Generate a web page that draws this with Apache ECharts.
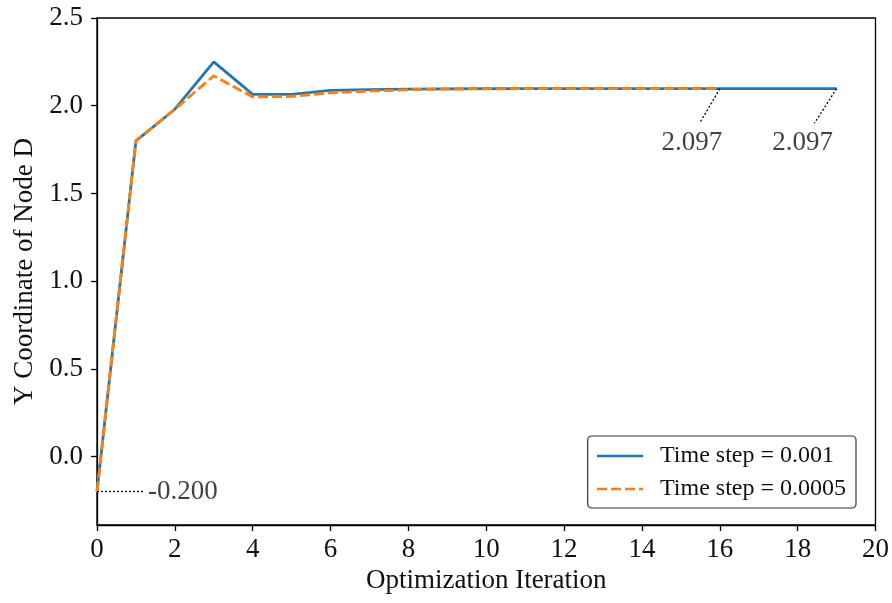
<!DOCTYPE html>
<html>
<head>
<meta charset="utf-8">
<script src="https://cdn.jsdelivr.net/npm/echarts@6/dist/echarts.min.js"></script>
<style>
html, body { margin: 0; padding: 0; background: #fff; }
#chart { width: 892px; height: 603px; }
</style>
</head>
<body>
<div id="chart"></div>
<script>
// iterations and node D y coordinate for both time steps
var itersA = [0, 1, 2, 3, 4, 5, 6, 7, 8, 9, 10, 11, 12, 13, 14, 15, 16, 17, 18, 19];
var valuesA = [-0.2, 1.80, 1.98, 2.25, 2.065, 2.065, 2.088, 2.092, 2.095, 2.096, 2.097, 2.097, 2.097, 2.097, 2.097, 2.097, 2.097, 2.097, 2.097, 2.097];
var itersB = [0, 1, 2, 3, 4, 5, 6, 7, 8, 9, 10, 11, 12, 13, 14, 15, 16];
var valuesB = [-0.2, 1.80, 1.98, 2.17, 2.05, 2.053, 2.073, 2.083, 2.091, 2.095, 2.096, 2.097, 2.097, 2.097, 2.097, 2.097, 2.097];
var yTicks = [0.0, 0.5, 1.0, 1.5, 2.0, 2.5];
var seriesNames = ['Time step = 0.001', 'Time step = 0.0005'];

// annotations: point, end of leader, text position, text
var notePoints = [[0, -0.2], [16, 2.097], [19, 2.097]];
var noteEnds = [[1.18, -0.2], [15.48, 1.90], [18.43, 1.90]];
var noteText = [[1.31, -0.2], [15.28, 1.79], [18.13, 1.79]];
var noteLabels = ['-0.200', '2.097', '2.097'];

var font = 'Liberation Serif';

function pairs(xs, ys) {
	var out = [];
	for (var i = 0; i < xs.length; i++) out.push([xs[i], ys[i]]);
	return out;
}

var leaders = [];
for (var i = 0; i < notePoints.length; i++) {
	leaders.push([{ coord: notePoints[i] }, { coord: noteEnds[i] }]);
}

var textData = [];
for (var j = 0; j < noteText.length; j++) {
	textData.push({
		value: noteText[j],
		label: {
			formatter: noteLabels[j],
			align: j == 0 ? 'left' : 'center'
		}
	});
}

var myChart = echarts.init(document.getElementById('chart'));
var option = {
	animation: false,
	backgroundColor: '#fff',
	grid: {
		left: 97, right: 16, top: 18, bottom: 78,
		show: true, borderColor: '#000', borderWidth: 1.3, backgroundColor: 'transparent'
	},
	legend: {
		right: 36, bottom: 95,
		orient: 'vertical',
		data: seriesNames,
		itemWidth: 46, itemHeight: 16, itemGap: 9,
		itemStyle: { opacity: 0 },
		lineStyle: { width: 2.6 },
		padding: [8, 10, 7, 8],
		backgroundColor: '#fff',
		borderColor: '#333', borderWidth: 1.2, borderRadius: 4,
		textStyle: { fontFamily: font, fontSize: 24, color: '#111', padding: [0, 0, 0, 12] }
	},
	xAxis: {
		type: 'value', min: 0, max: 20, interval: 2,
		name: 'Optimization Iteration', nameLocation: 'middle', nameGap: 40,
		nameTextStyle: { fontFamily: font, fontSize: 27, color: '#111' },
		axisLine: { onZero: false, lineStyle: { color: '#000', width: 1.3 } },
		axisTick: { show: true, inside: false, length: 6, lineStyle: { color: '#000', width: 1.3 } },
		axisLabel: { fontFamily: font, fontSize: 27, color: '#111', margin: 11 },
		splitLine: { show: false }
	},
	yAxis: {
		type: 'value', min: -0.39, max: 2.5,
		name: 'Y Coordinate of Node D', nameLocation: 'middle', nameGap: 59,
		nameTextStyle: { fontFamily: font, fontSize: 27, color: '#111' },
		axisLine: { show: true, onZero: false, lineStyle: { color: '#000', width: 1.3 } },
		axisTick: { show: true, inside: false, length: 6, customValues: yTicks, lineStyle: { color: '#000', width: 1.3 } },
		axisLabel: {
			fontFamily: font, fontSize: 27, color: '#111', margin: 14,
			customValues: yTicks,
			formatter: function (v) { return v.toFixed(1); }
		},
		splitLine: { show: false }
	},
	series: [
		{
			name: seriesNames[0], type: 'line', data: pairs(itersA, valuesA),
			showSymbol: false, symbol: 'none', color: '#1f77b4',
			lineStyle: { width: 2.8, color: '#1f77b4' },
			markLine: {
				silent: true, symbol: 'none',
				lineStyle: { type: [2, 2], color: '#000', width: 1.3 },
				label: { show: false },
				data: leaders
			},
			z: 2
		},
		{
			name: seriesNames[1], type: 'line', data: pairs(itersB, valuesB),
			showSymbol: false, symbol: 'none', color: '#ff7f0e',
			lineStyle: { width: 2.8, color: '#ff7f0e', type: [10, 4] },
			z: 3
		},
		{
			type: 'scatter', data: textData, symbolSize: 0, silent: true,
			label: {
				show: true, position: 'inside', fontFamily: font, fontSize: 27, color: '#111',
				verticalAlign: 'middle'
			},
			z: 4
		}
	]
};
myChart.setOption(option);
</script>
</body>
</html>
